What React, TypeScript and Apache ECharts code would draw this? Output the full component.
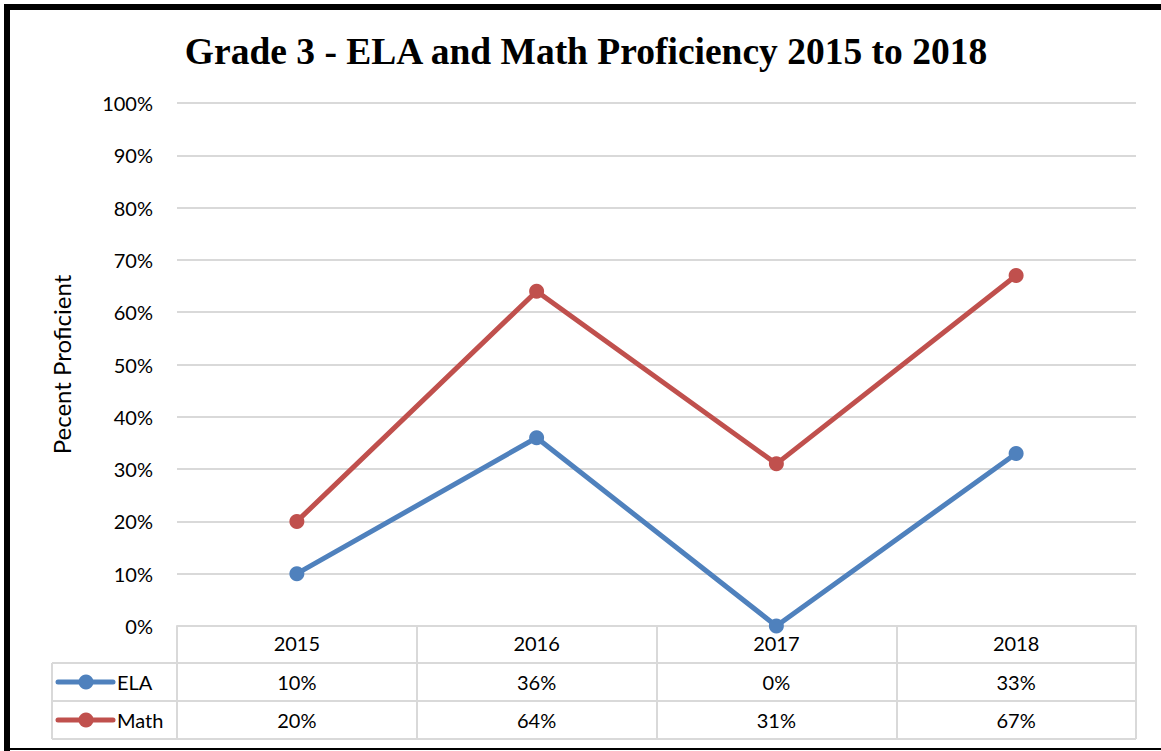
import React, { useEffect, useRef } from "react";
import * as echarts from "echarts";

const years = ["2015", "2016", "2017", "2018"];
const ela = [10, 36, 0, 33];
const math = [20, 64, 31, 67];
const seriesNames = ["ELA", "Math"];
const titleText = "Grade 3 - ELA and Math Proficiency 2015 to 2018";
const yAxisTitle = "Pecent Proficient";

const BLUE = "#4F81BD";
const RED = "#C0504D";
const GRID = "#D9D9D9";
const FONT = "Lato";

export default function App() {
  const ref = useRef<HTMLDivElement>(null);
  useEffect(() => {
    const chart = echarts.init(ref.current!, null, { renderer: "svg" });
    const base: any = {
      animation: false,
      backgroundColor: "#fff",
      title: {
        text: titleText,
        left: 581,
        top: 27,
        textAlign: "center",
        textStyle: { fontFamily: "Liberation Serif", fontWeight: "bold", fontSize: 37.5, color: "#000" },
      },
      grid: { left: 177, right: 25, top: 103, bottom: 125 },
      xAxis: {
        type: "category",
        data: years,
        boundaryGap: true,
        axisLine: { show: true, lineStyle: { color: GRID, width: 2 } },
        axisTick: { show: true, length: 113, lineStyle: { color: GRID, width: 2 } },
        axisLabel: { margin: 7, fontFamily: FONT, fontSize: 20, color: "#000" },
      },
      yAxis: {
        type: "value",
        min: 0,
        max: 100,
        interval: 10,
        name: yAxisTitle,
        nameLocation: "middle",
        nameGap: 104,
        nameTextStyle: { fontFamily: FONT, fontSize: 24, color: "#000" },
        axisLine: { show: false },
        axisTick: { show: false },
        axisLabel: { margin: 24, fontFamily: FONT, fontSize: 20, color: "#000", formatter: "{value}%" },
        splitLine: { lineStyle: { color: GRID, width: 2 } },
      },
      series: [
        {
          name: seriesNames[0], type: "line", data: ela, symbol: "circle", symbolSize: 15,
          itemStyle: { color: BLUE }, lineStyle: { color: BLUE, width: 5 },
        },
        {
          name: seriesNames[1], type: "line", data: math, symbol: "circle", symbolSize: 15,
          itemStyle: { color: RED }, lineStyle: { color: RED, width: 5 },
        },
      ],
    };
    chart.setOption(base);

    const xs = years.map((y) => chart.convertToPixel({ xAxisIndex: 0 }, y) as number);
    const axisY = chart.convertToPixel({ yAxisIndex: 0 }, 0) as number;
    const rightX = 1136;
    const tableLeft = 52;
    const headerBottom = axisY + 37;
    const rowH = 38;
    const rows = [
      { name: seriesNames[0], values: ela, color: BLUE },
      { name: seriesNames[1], values: math, color: RED },
    ];
    const g: any[] = [];
    for (let i = 0; i <= rows.length; i++) {
      const y = headerBottom + i * rowH;
      g.push({ type: "line", shape: { x1: tableLeft, y1: y, x2: rightX, y2: y }, style: { stroke: GRID, lineWidth: 2 } });
    }
    g.push({ type: "line", shape: { x1: tableLeft, y1: headerBottom, x2: tableLeft, y2: headerBottom + rows.length * rowH }, style: { stroke: GRID, lineWidth: 2 } });
    rows.forEach((r, ri) => {
      const cy = headerBottom + ri * rowH + rowH / 2;
      g.push({ type: "line", shape: { x1: 58, y1: cy, x2: 113, y2: cy }, style: { stroke: r.color, lineWidth: 5, lineCap: "round" } });
      g.push({ type: "circle", shape: { cx: 86, cy, r: 7.5 }, style: { fill: r.color } });
      g.push({ type: "text", x: 117, y: cy, style: { text: r.name, fontFamily: FONT, fontSize: 20, fill: "#000", align: "left", verticalAlign: "middle" } });
      r.values.forEach((v, i) => {
        g.push({ type: "text", x: xs[i], y: cy, style: { text: v + "%", fontFamily: FONT, fontSize: 20, fill: "#000", align: "center", verticalAlign: "middle" } });
      });
    });
    g.push({ type: "rect", shape: { x: 4, y: 4, width: 6, height: 747 }, style: { fill: "#000" } });
    g.push({ type: "rect", shape: { x: 4, y: 4, width: 1157, height: 6 }, style: { fill: "#000" } });
    g.push({ type: "rect", shape: { x: 4, y: 748, width: 1157, height: 2 }, style: { fill: "#000" } });
    chart.setOption({ graphic: g });

    return () => chart.dispose();
  }, []);
  return (
    <div
      ref={ref}
      style={{ position: "fixed", left: 0, top: 0, width: 1161, height: 751, background: "#fff" }}
    />
  );
}
